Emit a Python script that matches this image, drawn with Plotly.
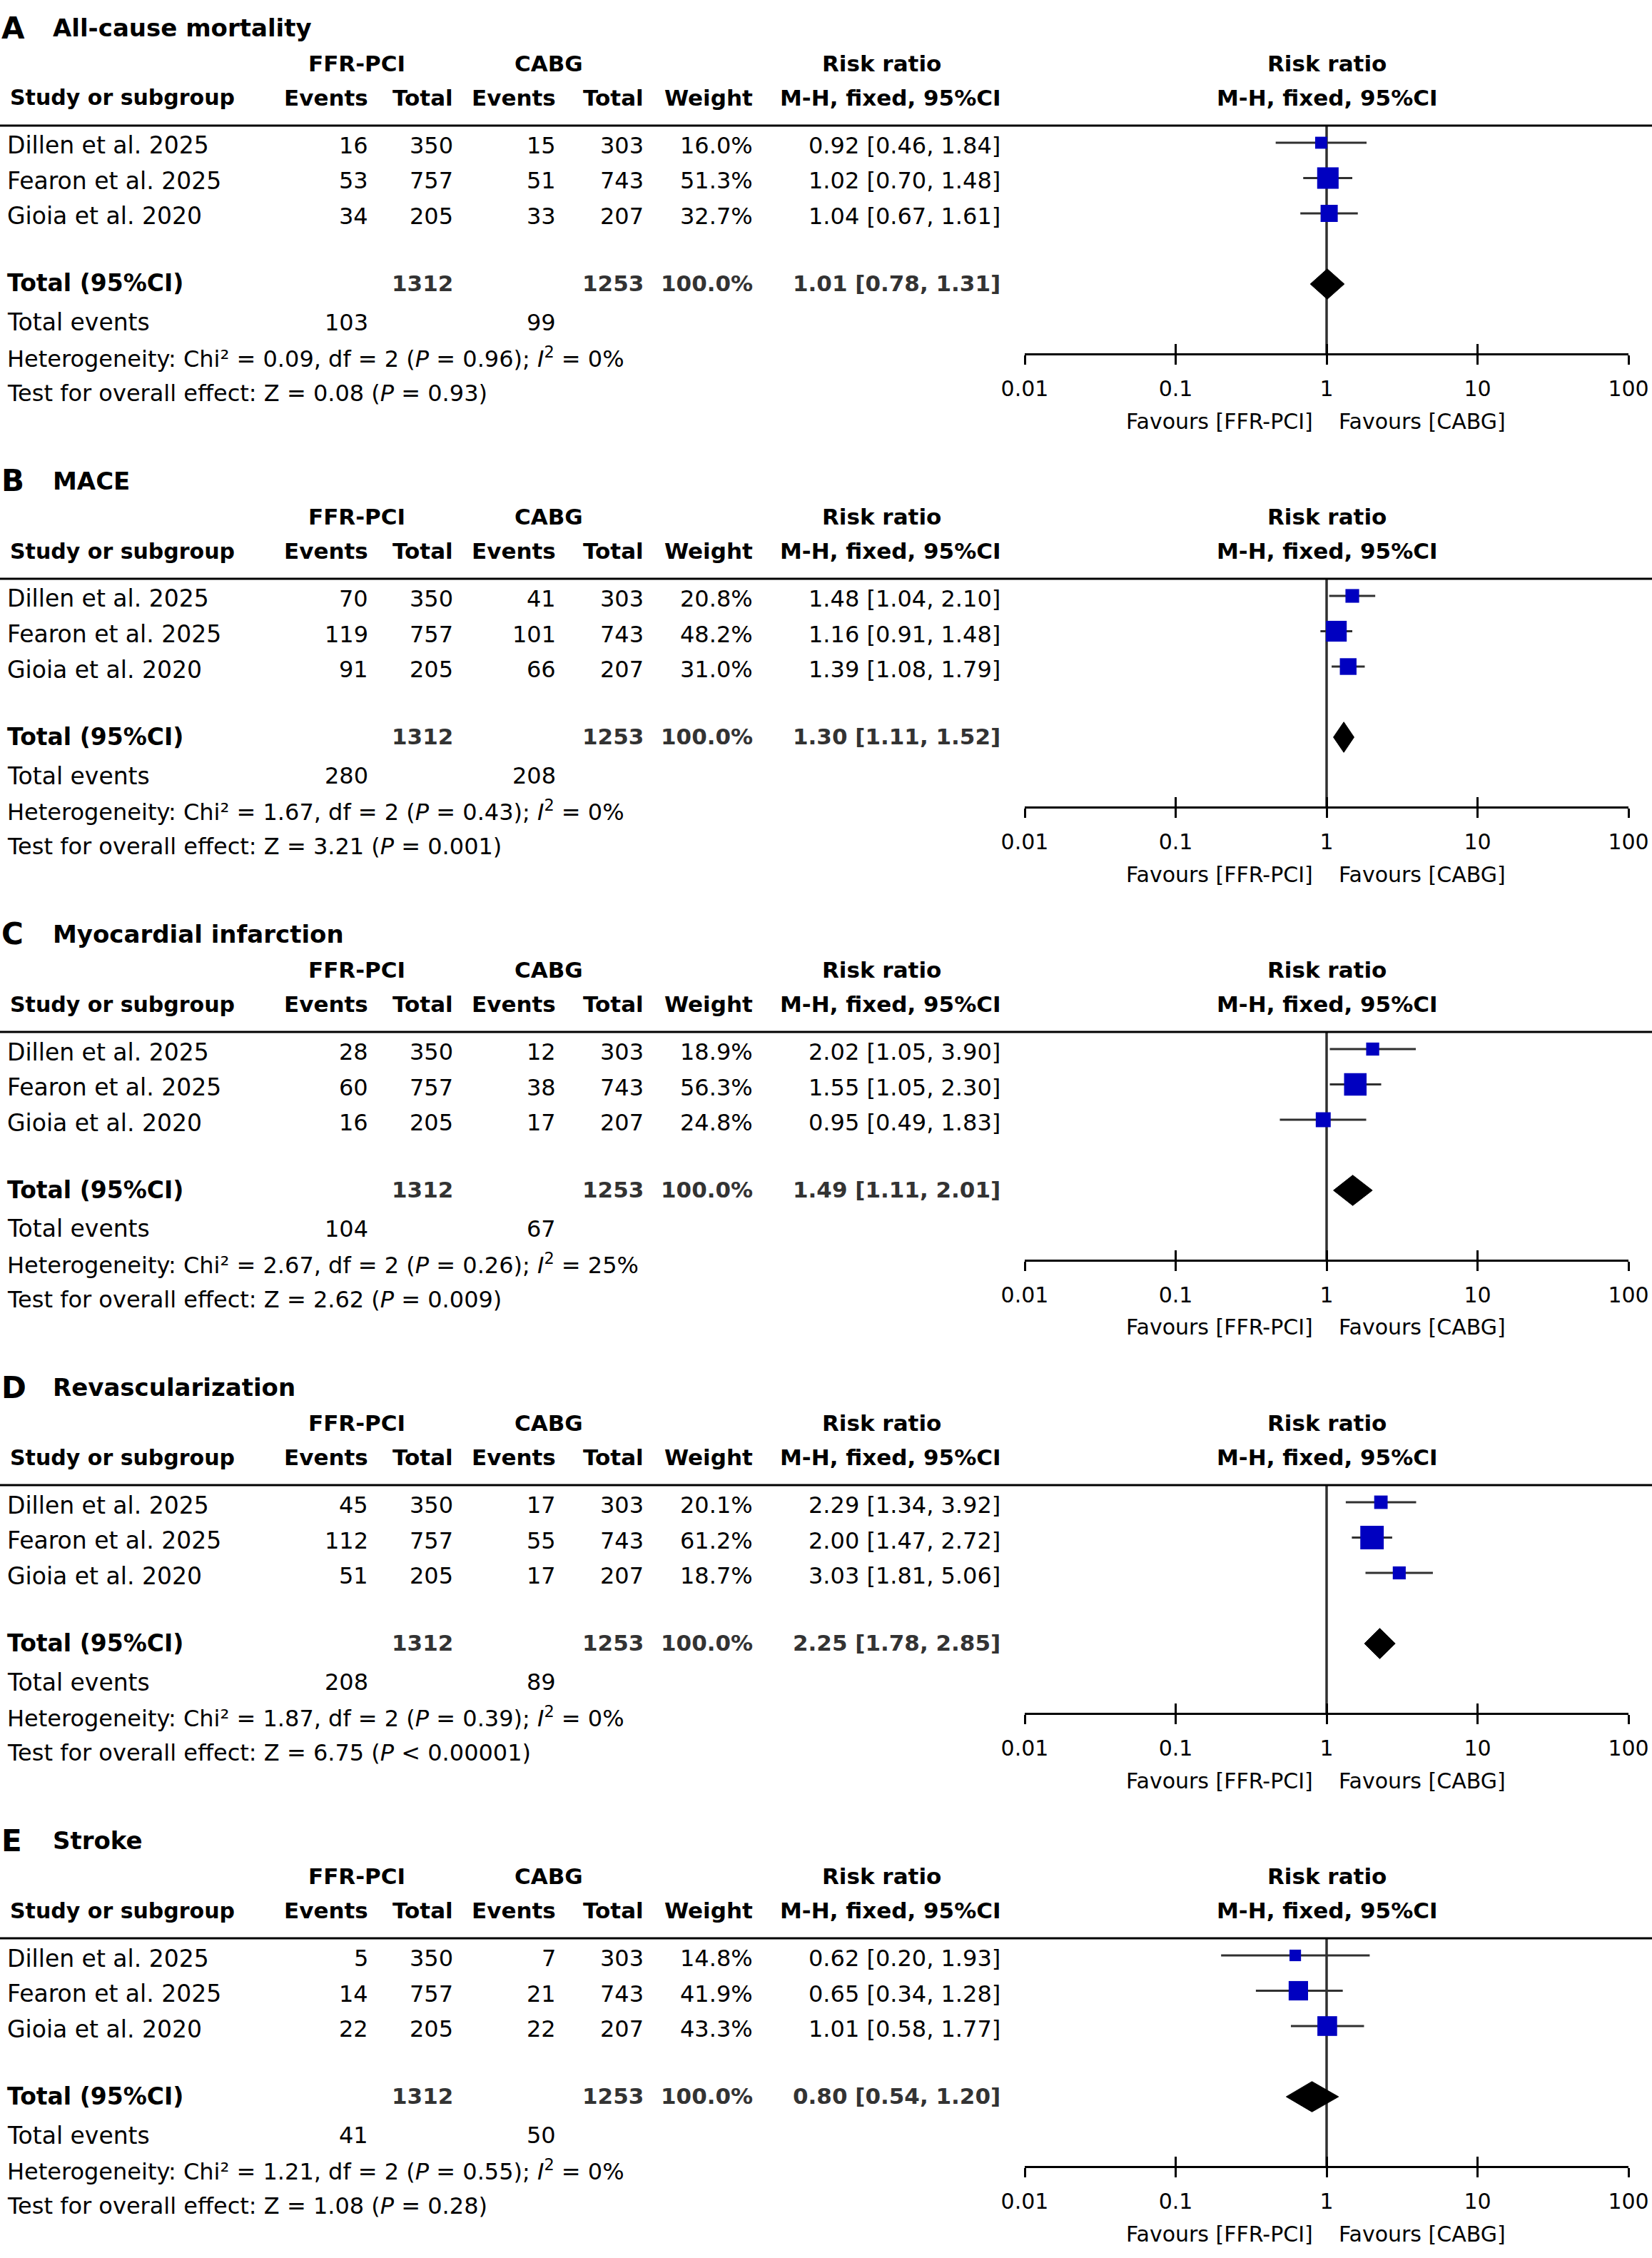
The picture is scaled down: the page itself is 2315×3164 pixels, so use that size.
import math
import plotly.graph_objects as go

# ---------------- data ----------------
letters = ["A", "B", "C", "D", "E"]
outcomes = ["All-cause mortality", "MACE", "Myocardial infarction", "Revascularization", "Stroke"]
studies = ["Dillen et al. 2025", "Fearon et al. 2025", "Gioia et al. 2020"]
ffr_totals = [350, 757, 205]
cabg_totals = [303, 743, 207]
ffr_events = [[16, 53, 34], [70, 119, 91], [28, 60, 16], [45, 112, 51], [5, 14, 22]]
cabg_events = [[15, 51, 33], [41, 101, 66], [12, 38, 17], [17, 55, 17], [7, 21, 22]]
weights = [[16.0, 51.3, 32.7], [20.8, 48.2, 31.0], [18.9, 56.3, 24.8], [20.1, 61.2, 18.7], [14.8, 41.9, 43.3]]
rr = [[0.92, 1.02, 1.04], [1.48, 1.16, 1.39], [2.02, 1.55, 0.95], [2.29, 2.00, 3.03], [0.62, 0.65, 1.01]]
rr_low = [[0.46, 0.70, 0.67], [1.04, 0.91, 1.08], [1.05, 1.05, 0.49], [1.34, 1.47, 1.81], [0.20, 0.34, 0.58]]
rr_high = [[1.84, 1.48, 1.61], [2.10, 1.48, 1.79], [3.90, 2.30, 1.83], [3.92, 2.72, 5.06], [1.93, 1.28, 1.77]]
total_ffr = 1312
total_cabg = 1253
pooled_rr = [1.01, 1.30, 1.49, 2.25, 0.80]
pooled_low = [0.78, 1.11, 1.11, 1.78, 0.54]
pooled_high = [1.31, 1.52, 2.01, 2.85, 1.20]
sum_events_ffr = [103, 280, 104, 208, 41]
sum_events_cabg = [99, 208, 67, 89, 50]
chi2 = ["0.09", "1.67", "2.67", "1.87", "1.21"]
het_p = ["0.96", "0.43", "0.26", "0.39", "0.55"]
i2 = ["0%", "0%", "25%", "0%", "0%"]
z_vals = ["0.08", "3.21", "2.62", "6.75", "1.08"]
z_p = ["= 0.93", "= 0.001", "= 0.009", "< 0.00001", "= 0.28"]
tick_vals = [0.01, 0.1, 1, 10, 100]
tick_text = ["0.01", "0.1", "1", "10", "100"]

# ---------------- geometry / style ----------------
W, H = 2315, 3164
STEP = 635          # vertical distance between panels (px)
HDR_LINE = 176      # header rule (panel A)
AX_LINE = 495       # x-axis line (panel A)
ROW0 = 200          # centre of first study row (panel A)
ROWH = 49.5
X0, X1 = 1436, 2282  # forest plot x extent
FONT = "DejaVu Sans"
BLUE = "#0000C0"
DARK = "#303030"
NULL_LOG = 0        # log10 of the line of no effect (RR = 1), for annotations

def row_of(px):
    return (px - ROW0) / ROWH + 1

COL_R = [518, 637, 781, 904, 1057, 1404]   # right edges of table columns
GRP_C = [500, 769, 1235]                    # centres of group headers

fig = go.Figure()
annotations = []
shapes = []
layout_axes = {}

def ann(k, xpx, ypx, text, anchor="left", size=32, color="black", xref="paper", xval=None, xshift=0):
    annotations.append(dict(
        x=(xpx / W) if xval is None else xval, xref=xref, xshift=xshift,
        y=1 - (ypx + k * STEP) / H, yref="paper",
        text=text, showarrow=False, xanchor=anchor, yanchor="middle",
        font=dict(family=FONT, size=size, color=color)))

for k in range(5):
    xs = "" if k == 0 else str(k + 1)
    xo = str(k + 6)
    yname = "y" + xs
    xname = "x" + xs
    ydom = [1 - (AX_LINE + k * STEP) / H, 1 - (HDR_LINE + k * STEP) / H]
    xdom = [X0 / W, X1 / W]

    layout_axes["yaxis" + xs] = dict(domain=ydom, range=[row_of(AX_LINE), row_of(HDR_LINE)],
                                     visible=False, fixedrange=True)
    common = dict(type="log", range=[-2, 2], domain=xdom, anchor=yname,
                  tickmode="array", tickvals=tick_vals, ticktext=tick_text,
                  showgrid=False, zeroline=False, fixedrange=True, automargin=False,
                  ticklen=13, tickwidth=3, tickcolor="black")
    layout_axes["xaxis" + xs] = dict(common, showline=True, linewidth=3, linecolor="black",
                                     ticks="outside", showticklabels=True,
                                     tickfont=dict(family=FONT, size=30, color="black"),
                                     ticklabelstandoff=8)
    layout_axes["xaxis" + xo] = dict(common, overlaying=xname, showline=False,
                                     ticks="inside", showticklabels=False)

    # header rule across full width
    shapes.append(dict(type="line", xref="paper", x0=0, x1=1,
                       yref=yname + " domain", y0=1, y1=1,
                       line=dict(color="black", width=3)))
    # line of no effect
    shapes.append(dict(type="line", xref=xname, x0=1, x1=1,
                       yref=yname + " domain", y0=0, y1=1, layer="below",
                       line=dict(color=DARK, width=3.5)))

    rows = [1, 2, 3]
    # confidence intervals
    cx, cy = [], []
    for lo, hi, r in zip(rr_low[k], rr_high[k], rows):
        cx += [lo, hi, None]
        cy += [r, r, None]
    fig.add_trace(go.Scatter(x=cx, y=cy, mode="lines", xaxis=xname, yaxis=yname,
                             line=dict(color=DARK, width=3), hoverinfo="skip", showlegend=False))
    # study squares (area proportional to weight)
    fig.add_trace(go.Scatter(x=rr[k], y=rows, mode="markers", xaxis="x" + xo, yaxis=yname,
                             marker=dict(symbol="square", color=BLUE, opacity=1,
                                         size=[4.2 * math.sqrt(w) for w in weights[k]],
                                         line=dict(width=0)),
                             hoverinfo="skip", showlegend=False))
    # pooled diamond
    hh = 0.43
    fig.add_trace(go.Scatter(x=[pooled_low[k], pooled_rr[k], pooled_high[k], pooled_rr[k], pooled_low[k]],
                             y=[5, 5 - hh, 5, 5 + hh, 5], mode="lines", fill="toself",
                             fillcolor="black", line=dict(color="black", width=1),
                             xaxis="x" + xo, yaxis=yname, hoverinfo="skip", showlegend=False))

    # panel title
    ann(k, 0, 39, f"<b>{letters[k]}</b>", size=42)
    ann(k, 72, 39, f"<b>{outcomes[k]}</b>", size=34)
    # group headers
    ann(k, GRP_C[0], 89, "<b>FFR-PCI</b>", anchor="center", size=31)
    ann(k, GRP_C[1], 89, "<b>CABG</b>", anchor="center", size=31)
    ann(k, GRP_C[2], 89, "<b>Risk ratio</b>", anchor="center", size=31)
    ann(k, 0, 89, "<b>Risk ratio</b>", anchor="center", size=31, xref=xname, xval=NULL_LOG)
    # column headers
    ann(k, 12, 137, "<b>Study or subgroup</b>", size=30)
    for xr, t in zip(COL_R, ["Events", "Total", "Events", "Total", "Weight", "M-H, fixed, 95%CI"]):
        ann(k, xr, 137, f"<b>{t}</b>", anchor="right", size=31)
    ann(k, 0, 137, "<b>M-H, fixed, 95%CI</b>", anchor="center", size=31, xref=xname, xval=NULL_LOG)
    # study rows
    for i, s in enumerate(studies):
        ypx = ROW0 + i * ROWH + 4
        vals = [str(ffr_events[k][i]), str(ffr_totals[i]), str(cabg_events[k][i]), str(cabg_totals[i]),
                f"{weights[k][i]:.1f}%",
                f"{rr[k][i]:.2f} [{rr_low[k][i]:.2f}, {rr_high[k][i]:.2f}]"]
        ann(k, 8, ypx, s, size=33)
        for xr, v in zip(COL_R, vals):
            ann(k, xr, ypx, v, anchor="right")
    # total row
    ann(k, 8, 397, "<b>Total (95%CI)</b>", size=33)
    tot = {COL_R[1]: str(total_ffr), COL_R[3]: str(total_cabg), COL_R[4]: "100.0%",
           COL_R[5]: f"{pooled_rr[k]:.2f} [{pooled_low[k]:.2f}, {pooled_high[k]:.2f}]"}
    for xr, v in tot.items():
        ann(k, xr, 397, f"<b>{v}</b>", anchor="right", size=31, color="#333333")
    # totals & statistics
    ann(k, 8, 452, "Total events", size=33)
    ann(k, COL_R[0], 452, str(sum_events_ffr[k]), anchor="right")
    ann(k, COL_R[2], 452, str(sum_events_cabg[k]), anchor="right")
    ann(k, 8, 501, f"Heterogeneity: Chi² = {chi2[k]}, df = 2 (<i>P</i> = {het_p[k]}); <i>I</i><sup>2</sup> = {i2[k]}")
    ann(k, 8, 551, f"Test for overall effect: Z = {z_vals[k]} (<i>P</i> {z_p[k]})")
    # favours labels
    ann(k, 0, 590, "Favours [FFR-PCI]", anchor="right", size=30, xref=xname, xval=NULL_LOG, xshift=-17)
    ann(k, 0, 590, "Favours [CABG]", anchor="left", size=30, xref=xname, xval=NULL_LOG, xshift=15)

fig.update_layout(
    width=W, height=H, margin=dict(l=0, r=0, t=0, b=0, pad=0, autoexpand=False),
    autosize=False,
    paper_bgcolor="white", plot_bgcolor="rgba(0,0,0,0)",
    font=dict(family=FONT, color="black"),
    showlegend=False, annotations=annotations, shapes=shapes,
    **layout_axes)

fig.write_html("out.html", config={"displayModeBar": False, "responsive": False},
               post_script="document.body.style.margin='0';")
